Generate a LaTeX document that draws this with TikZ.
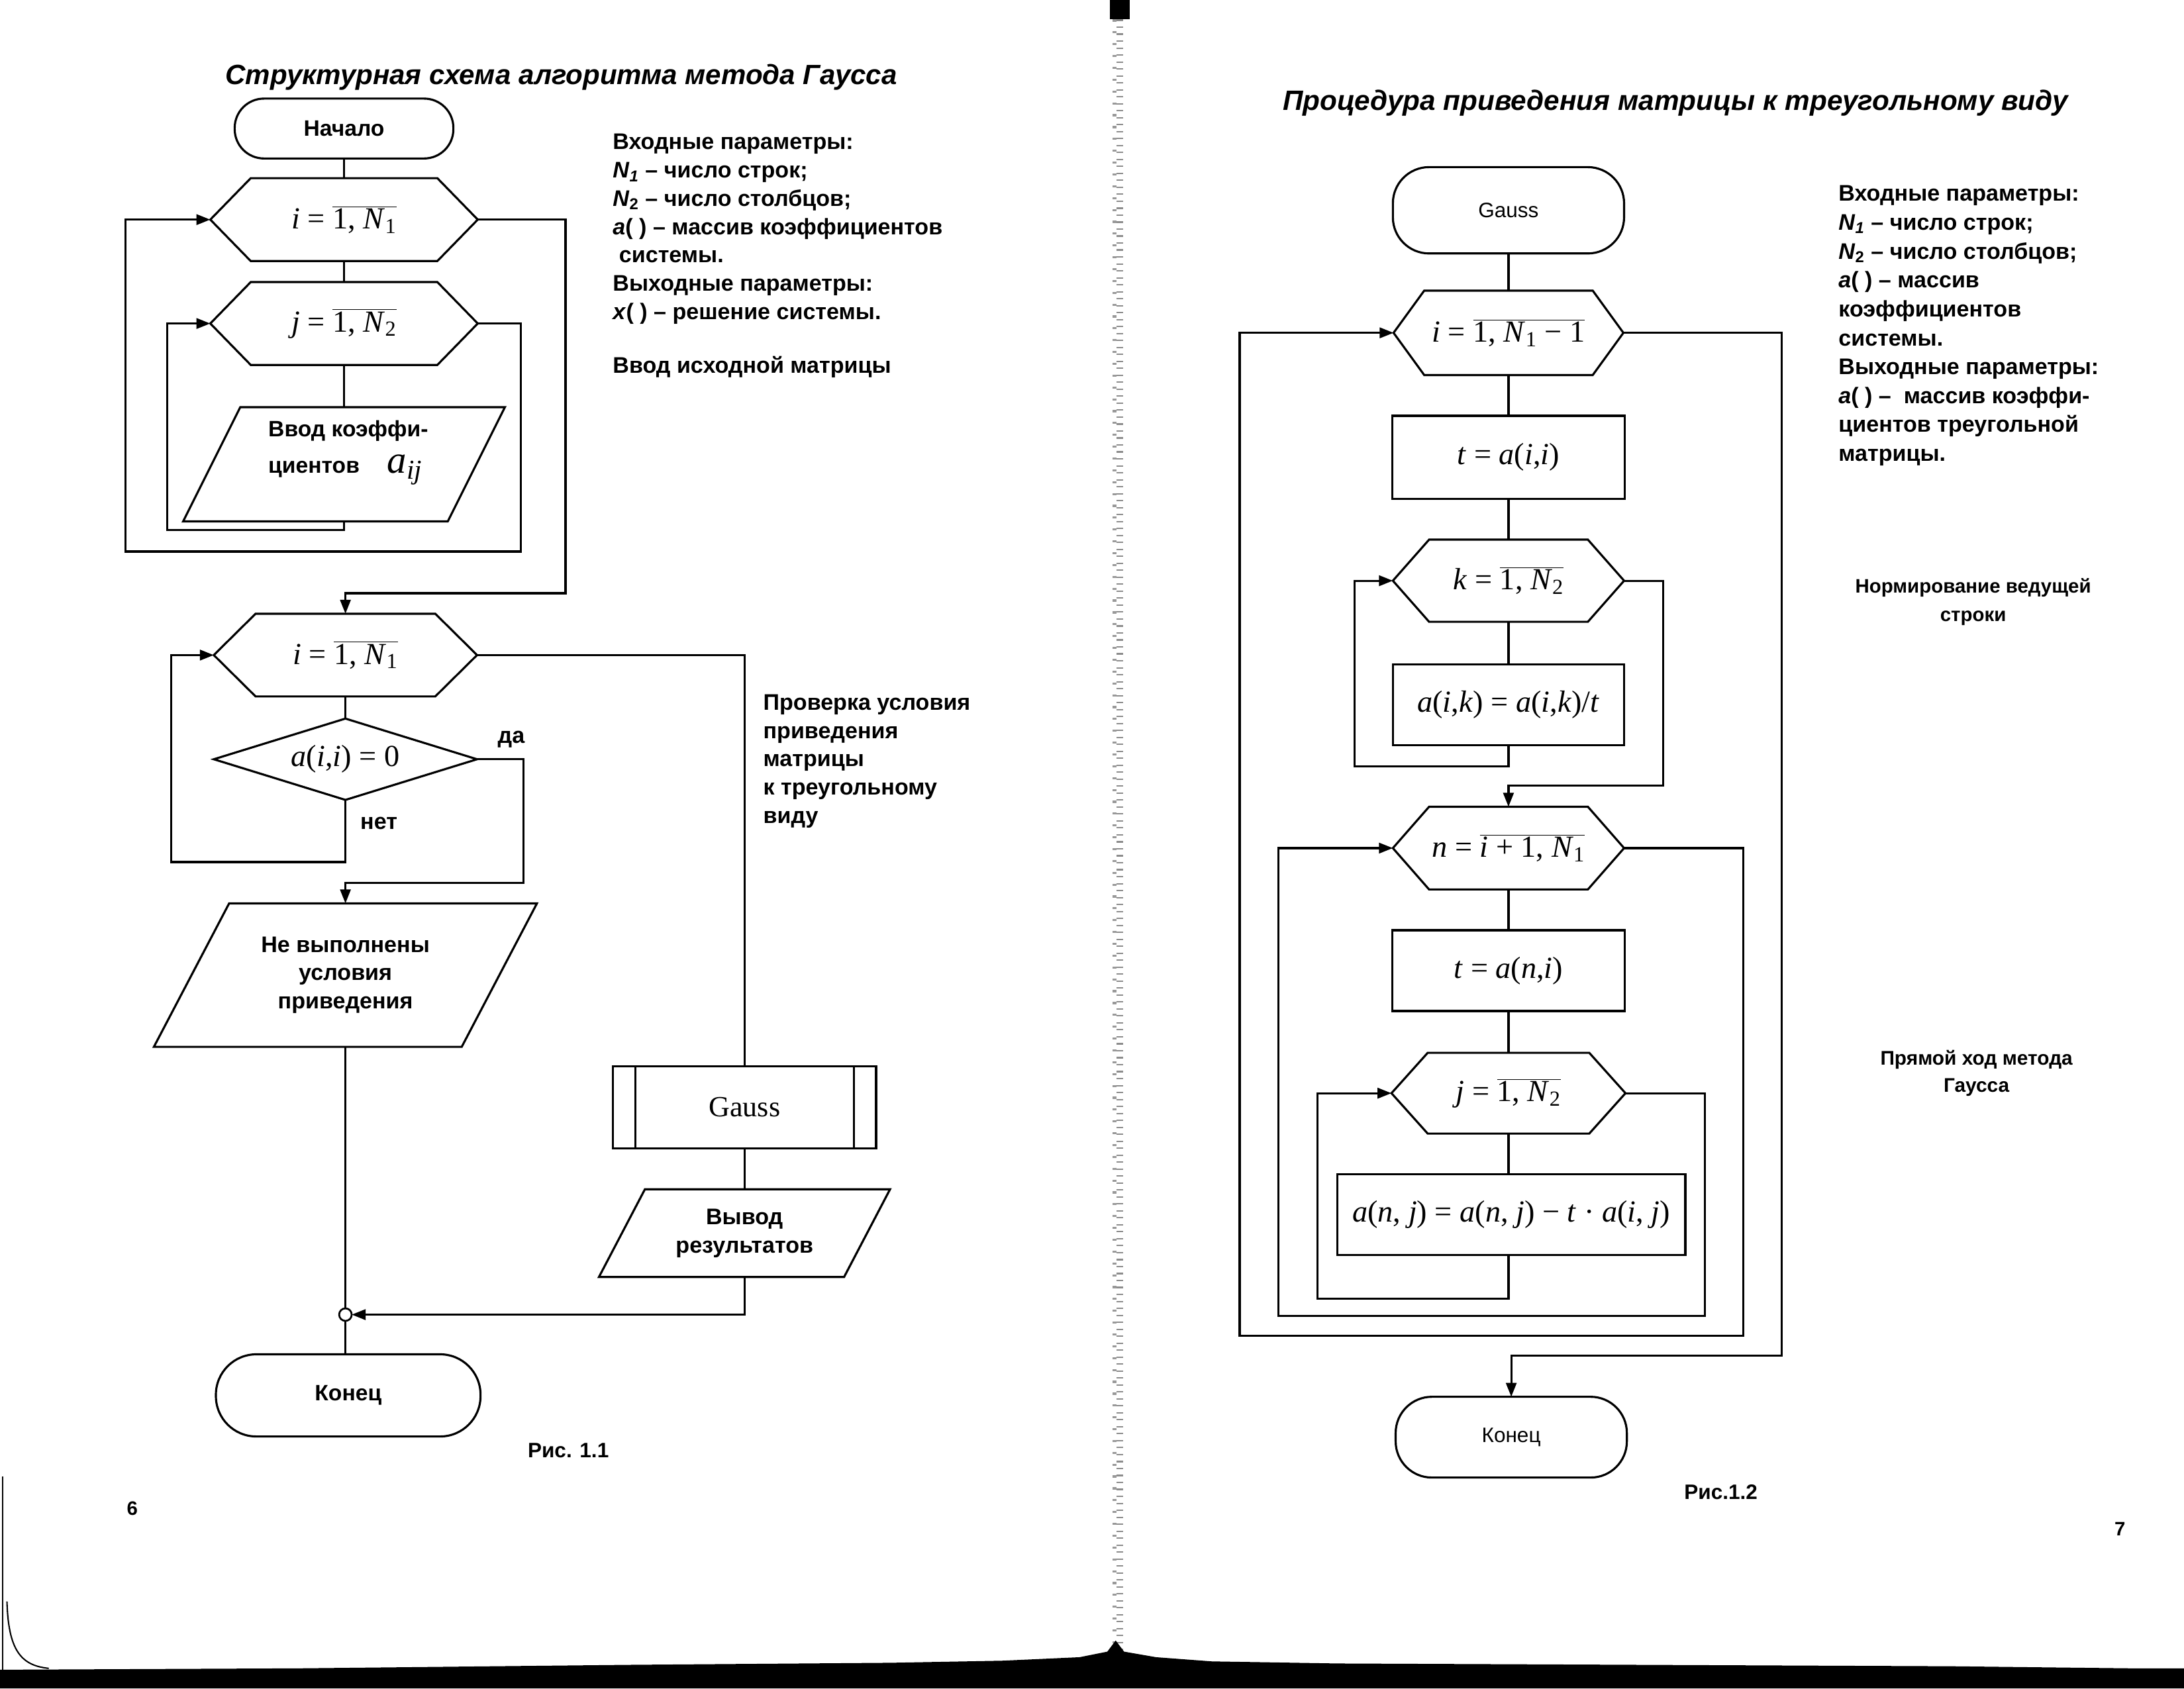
\documentclass[tikz,border=0pt]{standalone}
\usepackage{fontspec}
\setmainfont{Liberation Sans}
\newfontfamily\tnr{Liberation Serif}
\usetikzlibrary{arrows.meta}
\newcommand\fs[2]{\fontsize{#1}{#2}\selectfont}
\newcommand\ol[1]{\ensuremath{\overline{\mbox{#1}}}}
\newcommand\sbs[1]{\textsubscript{#1}}
\tikzset{
  base/.style={inner sep=0pt, outer sep=0pt},
  shp/.style={line width=1.5pt, line join=miter},
  con/.style={line width=1.5pt},
  arr/.style={con, -{Triangle[length=10pt,width=7.5pt]}},
  lbl/.style={base, font=\fs{16.2}{20.3}\bfseries},
  frm/.style={base, font=\tnr\fs{22}{26}},
  term/.style={base, draw, line width=1.5pt},
}
\newcommand\hexnode[7]{%
  \node[frm, minimum width=#4, minimum height=#5] (#1) at (#2,#3) {#7};
  \draw[shp] (#1.west) -- ([xshift=#6]#1.north west) -- ([xshift=-#6]#1.north east) -- (#1.east) -- ([xshift=-#6]#1.south east) -- ([xshift=#6]#1.south west) -- cycle;}
\newcommand\paranode[8]{%
  \node[#7, minimum width=#4, minimum height=#5, align=center] (#1) at (#2,#3) {#8};
  \draw[shp] ([xshift=#6]#1.north west) -- ([xshift=#6]#1.north east) -- ([xshift=-#6]#1.south east) -- ([xshift=-#6]#1.south west) -- cycle;}
\begin{document}
\begin{tikzpicture}[x=1pt,y=-1pt]
\useasboundingbox (0,0) rectangle (1568,1212.4);
\fill[white] (0,0) rectangle (1568,1212.4);

% ---------- scan artefacts: spine and bottom band ----------
\fill[black] (797,0) rectangle (811,14);
\draw[black!45, line width=5pt, dash pattern=on 1pt off 4pt] (804,14) -- (804,1186);
\draw[black!40, line width=3pt, dash pattern=on 1.5pt off 7pt] (800,14) -- (800,1186);
\fill[black] (0,1212.4) -- (0,1199) -- (215,1198) -- (450,1195.5) -- (640,1194) -- (720,1192.5) -- (775,1190) -- (795,1186) -- (801,1178) -- (807,1186) -- (830,1190) -- (870,1193) -- (960,1194.5) -- (1400,1196.5) -- (1530,1198) -- (1568,1198) -- (1568,1212.4) -- cycle;
\draw[line width=1.2pt] (2,1060) -- (2,1199);
\draw[line width=1pt] (5,1150) .. controls (6,1185) and (15,1196) .. (35,1198);

% ---------- left page ----------
\node[base, font=\fs{20}{24}\bfseries\itshape] (t1) at (403,55.5) {Структурная схема алгоритма метода Гаусса};

\node[term, rounded corners=21pt, minimum width=157, minimum height=43, font=\fs{16}{18}\bfseries] (start) at (247,92.3) {Начало};
\hexnode{h1}{247}{157.7}{192}{59.5}{29}{\textit{i} = \ol{1, \textit{N}\sbs{1}}}
\hexnode{h2}{247}{232.3}{192}{59.5}{29}{\textit{j} = \ol{1, \textit{N}\sbs{2}}}
\paranode{p1}{247}{333.4}{190}{82}{20.5}{base}{}
\node[lbl, align=left, font=\fs{16}{26}\bfseries] (p1t) at (250,325) {Ввод коэффи-\\циентов\hspace{20pt}{\tnr\fs{28}{26}\mdseries\itshape a\textsubscript{ij}}};

\hexnode{h3}{248}{470.4}{189}{59.4}{30}{\textit{i} = \ol{1, \textit{N}\sbs{1}}}
\node[frm, minimum width=189, minimum height=58.4] (d) at (248,545.2) {\textit{a}(\textit{i},\textit{i}) = 0};
\draw[shp] (d.west) -- (d.north) -- (d.east) -- (d.south) -- cycle;
\node[lbl] (yes) at (367,531) {да};
\node[lbl] (no) at (272,591.4) {нет};

\paranode{p2}{248}{700.2}{221}{103}{27}{lbl}{Не выполнены\\условия\\приведения}
\node[base, circle, draw, line width=1.3pt, fill=white, minimum size=9] (jn) at (248,944) {};
\node[term, rounded corners=29pt, minimum width=190, minimum height=59, font=\fs{16}{18}\bfseries] (end1) at (250,1002) {Конец};

\node[term, minimum width=189, minimum height=58.7, font=\tnr\fs{21}{24}] (gs) at (534.5,795.2) {Gauss};
\draw[shp] ([xshift=16]gs.north west) -- ([xshift=16]gs.south west);
\draw[shp] ([xshift=-16]gs.north east) -- ([xshift=-16]gs.south east);
\paranode{p3}{534.5}{885.5}{176}{63}{16.5}{lbl}{Вывод\\результатов}

% connectors, left
\coordinate (lj) at (120,380.5);
\coordinate (li) at (374,396);
\coordinate (li2) at (90,396);
\coordinate (ie) at (406,426);
\coordinate (ln) at (123,619);
\coordinate (ly) at (376,634);
\draw[con] (start.south) -- (h1.north);
\draw[con] (h1.south) -- (h2.north);
\draw[con] (h2.south) -- (h2.south |- p1.north);
\draw[arr] (p1.south) |- (lj) |- (h2.west);
\draw[arr] (h2.east) -| (li) -- (li2) |- (h1.west);
\draw[arr] (h1.east) -| (ie) -| (h3.north);
\draw[con] (h3.south) -- (d.north);
\draw[arr] (d.south) |- (ln) |- (h3.west);
\draw[arr] (d.east) -| (ly) -| (p2.north);
\draw[con] (h3.east) -| (gs.north);
\draw[con] (gs.south) -- (p3.north);
\draw[arr] (p3.south) |- (jn.east);
\draw[con] (p2.south) -- (jn.north);
\draw[con] (jn.south) -- (jn.south |- end1.north);

% side texts, left
\node[lbl, anchor=north west, align=left] (inl) at (440,96.3) {Входные параметры:\\\textit{N}\textsubscript{\textit{1}} – число строк;\\\textit{N}\textsubscript{2} – число столбцов;\\\textit{a}( ) – массив коэффициентов\\\ системы.\\Выходные параметры:\\\textit{x}( ) – решение системы.};
\node[lbl, anchor=base west] (vvod) at (440,267.7) {Ввод исходной матрицы};
\node[lbl, anchor=north west, align=left] (chk) at (548,498.8) {Проверка условия\\приведения\\матрицы\\к треугольному\\виду};
\node[lbl, font=\fs{15}{18}\bfseries] (fig1) at (408,1041.7) {Рис. 1.1};
\node[lbl, font=\fs{14}{18}\bfseries] (pg6) at (95,1083) {6};

% ---------- right page ----------
\node[base, font=\fs{20.1}{24}\bfseries\itshape] (t2) at (1203,74) {Процедура приведения матрицы к треугольному виду};

\node[term, rounded corners=26pt, minimum width=166, minimum height=62, font=\fs{15}{18}] (g) at (1083,151) {Gauss};
\hexnode{ri}{1083}{239}{165}{60.6}{22}{\textit{i} = \ol{1, \textit{N}\sbs{1} − 1}}
\node[frm, draw, line width=1.5pt, minimum width=167, minimum height=59.5] (r1) at (1083,328.3) {\textit{t} = \textit{a}(\textit{i},\textit{i})};
\hexnode{hk}{1083}{417}{166}{59}{26}{\textit{k} = \ol{1, \textit{N}\sbs{2}}}
\node[frm, draw, line width=1.5pt, minimum width=166, minimum height=58] (r2) at (1083,506) {\textit{a}(\textit{i},\textit{k}) = \textit{a}(\textit{i},\textit{k})/\textit{t}};
\hexnode{hn}{1083}{609}{166}{59.4}{26}{\textit{n} = \ol{\textit{i} + 1, \textit{N}\sbs{1}}}
\node[frm, draw, line width=1.5pt, minimum width=167, minimum height=58] (r3) at (1083,697) {\textit{t} = \textit{a}(\textit{n},\textit{i})};
\hexnode{hj}{1083}{785}{168}{58}{26}{\textit{j} = \ol{1, \textit{N}\sbs{2}}}
\node[frm, draw, line width=1.5pt, minimum width=250, minimum height=58] (r4) at (1085,872) {\textit{a}(\textit{n}, \textit{j}) = \textit{a}(\textit{n}, \textit{j}) − \textit{t} · \textit{a}(\textit{i}, \textit{j})};
\node[term, rounded corners=26pt, minimum width=166, minimum height=58, font=\fs{15}{18}] (end2) at (1085,1032) {Конец};

% connectors, right
\coordinate (lk) at (972.5,550.2);
\coordinate (ke) at (1194,564);
\coordinate (lj2) at (946,932.5);
\coordinate (je) at (1224,945);
\coordinate (je2) at (918,945);
\coordinate (ne) at (1251.4,959);
\coordinate (ne2) at (890,959);
\coordinate (ie2) at (1279,973.5);
\draw[con] (g.south) -- (ri.north);
\draw[con] (ri.south) -- (r1.north);
\draw[con] (r1.south) -- (hk.north);
\draw[con] (hk.south) -- (r2.north);
\draw[arr] (r2.south) |- (lk) |- (hk.west);
\draw[arr] (hk.east) -| (ke) -| (hn.north);
\draw[con] (hn.south) -- (r3.north);
\draw[con] (r3.south) -- (hj.north);
\draw[con] (hj.south) -- (hj.south |- r4.north);
\draw[arr] (hj.south |- r4.south) |- (lj2) |- (hj.west);
\draw[arr] (hj.east) -| (je) -- (je2) |- (hn.west);
\draw[arr] (hn.east) -| (ne) -- (ne2) |- (ri.west);
\draw[arr] (ri.east) -| (ie2) -| (end2.north);

% side texts, right
\node[lbl, anchor=north west, align=left, font=\fs{16.2}{20.75}\bfseries] (inr) at (1320,133.3) {Входные параметры:\\\textit{N}\textsubscript{\textit{1}} – число строк;\\\textit{N}\textsubscript{2} – число столбцов;\\\textit{a}( ) – массив\\коэффициентов\\системы.\\Выходные параметры:\\\textit{a}( ) – \ массив коэффи-\\циентов треугольной\\матрицы.};
\node[lbl, anchor=north, align=center, font=\fs{14}{20.6}\bfseries] (norm) at (1416.6,415.4) {Нормирование ведущей\\строки};
\node[lbl, anchor=north, align=center, font=\fs{14.2}{19.4}\bfseries] (pr) at (1419,754.4) {Прямой ход метода\\Гаусса};
\node[lbl, font=\fs{15}{18}\bfseries] (fig2) at (1235.5,1071.3) {Рис.1.2};
\node[lbl, font=\fs{14}{18}\bfseries] (pg7) at (1522,1098) {7};
\end{tikzpicture}
\end{document}
